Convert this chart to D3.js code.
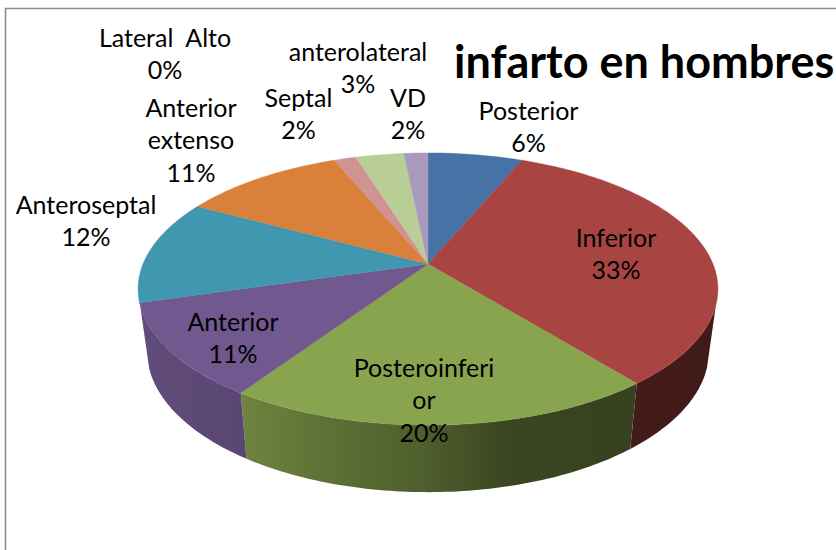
<!DOCTYPE html>
<html>
<head>
<meta charset="utf-8">
<script src="https://cdnjs.cloudflare.com/ajax/libs/d3/7.8.5/d3.min.js"></script>
<style>
  html, body { margin: 0; padding: 0; background: #fff; }
  svg { display: block; }
  text { font-family: Lato, "Open Sans", sans-serif; fill: #000; }
</style>
</head>
<body>
<div id="chart"></div>
<script>
// values, the labels round them to whole percents
var categories = ["Posterior", "Inferior", "Posteroinferior", "Anterior", "Anteroseptal",
                  "Anterior extenso", "Lateral  Alto", "Septal", "anterolateral", "VD"];
var values = [6.3, 32.9, 20.2, 11.1, 12.4, 10.8, 0, 1.5, 3.2, 1.6];
var colors = ["#4672a6", "#a84543", "#89a44e", "#71588f", "#4197af",
              "#d9803b", "#93a9cf", "#d09391", "#b9cd96", "#a99abd"];
var title = "infarto en hombres";

// where the label text breaks
var labelLines = {
  "Posteroinferior": ["Posteroinferi", "or"],
  "Anterior extenso": ["Anterior", "extenso"]
};
// center x and first baseline of each label
var labelX = [528.5, 616, 424, 233, 86, 191, 165, 298.5, 358, 408];
var labelY = [120, 247, 377, 331, 214, 117, 47, 107, 61, 107];

var width = 836;
var height = 550;

var svg = d3.select("#chart")
  .append("svg")
    .attr("width", width)
    .attr("height", height);

// frame, only left and top are in the picture
svg.append("path")
    .attr("d", "M5.5,550V8.5H836")
    .attr("fill", "none")
    .attr("stroke", "#8f8f8f")
    .attr("stroke-width", 1.6);

var pie = d3.pie().sort(null).value(function(d) { return d; });
var arcs = pie(values);

// perspective view of the disc: apex sits above the middle of the ellipse
var cx = 428, persp = 0.1838, halfW = 285, depthB = 83, apexY = 264;
function topPoint(a) {
  var u = Math.sin(a), v = -Math.cos(a), w = 1 - persp * v;
  return [cx + halfW * u / w, (depthB * v + apexY) / w];
}
// bottom rim is a slightly narrower, lower copy of the top one
function bottomPoint(a) {
  var p = topPoint(a);
  return [cx + (p[0] - cx) * 0.969, 352 + (p[1] - 290) * 1.037];
}
var line = d3.line();
function rim(fn, a0, a1) {
  var n = Math.max(2, Math.ceil((a1 - a0) * 60));
  return d3.range(n + 1).map(function(i) { return fn(a0 + (a1 - a0) * i / n); });
}

// the wall is only seen between these two angles
var wallFrom = 1.87, wallTo = 4.41;

// wall shading goes dark from left to right
var shadeX = [137, 245, 330, 420, 510, 720];
var shade = [0.86, 0.8, 0.68, 0.58, 0.42, 0.38];
var defs = svg.append("defs");
arcs.forEach(function(d, i) {
  var g = defs.append("linearGradient")
      .attr("id", "wall" + i)
      .attr("gradientUnits", "userSpaceOnUse")
      .attr("x1", shadeX[0]).attr("x2", shadeX[shadeX.length - 1])
      .attr("y1", 0).attr("y2", 0);
  shadeX.forEach(function(x, k) {
    var c = d3.rgb(colors[i]);
    g.append("stop")
        .attr("offset", (x - shadeX[0]) / (shadeX[shadeX.length - 1] - shadeX[0]))
        .attr("stop-color", d3.rgb(c.r * shade[k], c.g * shade[k], c.b * shade[k]).formatRgb());
  });
});

// walls first, the top face goes over them
svg.append("g").selectAll("path")
    .data(arcs.filter(function(d) { return d.endAngle > wallFrom && d.startAngle < wallTo && d.value > 0; }))
    .enter()
    .append("path")
    .attr("d", function(d) {
      var a0 = Math.max(d.startAngle, wallFrom), a1 = Math.min(d.endAngle, wallTo);
      var top = rim(topPoint, a0, a1);
      var bottom = rim(bottomPoint, a0, a1).reverse();
      return line(top.concat(bottom)) + "Z";
    })
    .attr("fill", function(d) { return "url(#wall" + d.index + ")"; });

svg.append("g").selectAll("path")
    .data(arcs.filter(function(d) { return d.value > 0; }))
    .enter()
    .append("path")
    .attr("d", function(d) {
      return line([[cx, apexY]].concat(rim(topPoint, d.startAngle, d.endAngle))) + "Z";
    })
    .attr("fill", function(d) { return colors[d.index]; })
    .attr("stroke", function(d) { return colors[d.index]; })
    .attr("stroke-width", 0.4);

var label = svg.append("g").selectAll("text")
    .data(arcs)
    .enter()
    .append("text")
    .attr("text-anchor", "middle")
    .attr("font-size", 25)
    .style("white-space", "pre");

label.each(function(d, i) {
  var name = categories[i];
  var lines = (labelLines[name] || [name]).concat(Math.round(d.value) + "%");
  d3.select(this).selectAll("tspan")
      .data(lines)
      .enter()
      .append("tspan")
      .attr("x", labelX[i])
      .attr("y", function(t, k) { return labelY[i] + k * 32.3; })
      .text(function(t) { return t; });
});

svg.append("text")
    .attr("x", 454)
    .attr("y", 78)
    .attr("font-size", 45)
    .attr("font-weight", 700)
    .text(title);
</script>
</body>
</html>
